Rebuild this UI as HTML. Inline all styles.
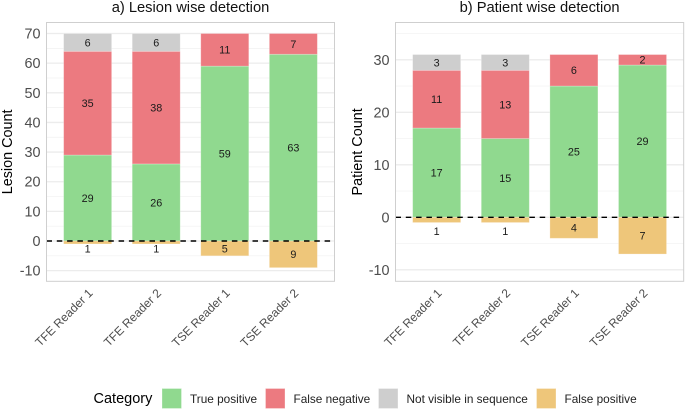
<!DOCTYPE html>
<html>
<head>
<meta charset="utf-8">
<style>
html,body{margin:0;padding:0;background:#fff;}
svg{display:block;font-family:"Liberation Sans",sans-serif;}
</style>
</head>
<body>
<svg id="chart" width="685" height="409" viewBox="0 0 685 409" xmlns="http://www.w3.org/2000/svg">
<g id="legend">
<text x="93.5" y="403" font-size="14.5" fill="#000">Category</text>
<rect x="162" y="388.5" width="19.5" height="20" fill="#90d98f" stroke="#fff" stroke-opacity=".3"/>
<text x="190" y="403" font-size="11.8" fill="#222">True positive</text>
<rect x="265.5" y="388.5" width="19.5" height="20" fill="#ec7a80" stroke="#fff" stroke-opacity=".3"/>
<text x="293.5" y="403" font-size="11.8" fill="#222">False negative</text>
<rect x="378.5" y="388.5" width="19.5" height="20" fill="#cecece" stroke="#fff" stroke-opacity=".3"/>
<text x="406.5" y="403" font-size="11.8" fill="#222">Not visible in sequence</text>
<rect x="536.5" y="388.5" width="19.5" height="20" fill="#eec67a" stroke="#fff" stroke-opacity=".3"/>
<text x="564.5" y="403" font-size="11.8" fill="#222">False positive</text>
</g>
</svg>
<script>
var categories = ["TFE Reader 1", "TFE Reader 2", "TSE Reader 1", "TSE Reader 2"];

var lesionTruePositive = [29, 26, 59, 63];
var lesionFalseNegative = [35, 38, 11, 7];
var lesionNotVisible = [6, 6, 0, 0];
var lesionFalsePositive = [1, 1, 5, 9];
var lesionTicks = [-10, 0, 10, 20, 30, 40, 50, 60, 70];
var lesionMinorTicks = [-5, 5, 15, 25, 35, 45, 55, 65];

var patientTruePositive = [17, 15, 25, 29];
var patientFalseNegative = [11, 13, 6, 2];
var patientNotVisible = [3, 3, 0, 0];
var patientFalsePositive = [1, 1, 4, 7];
var patientTicks = [-10, 0, 10, 20, 30];
var patientMinorTicks = [-5, 5, 15, 25, 35];

var NS = "http://www.w3.org/2000/svg";
var svg = document.getElementById("chart");
var COLORS = {tp: "#90d98f", fn: "#ec7a80", nv: "#cecece", fp: "#eec67a"};

function el(tag, attrs, parent, text) {
  var e = document.createElementNS(NS, tag);
  for (var k in attrs) e.setAttribute(k, attrs[k]);
  if (text !== undefined) e.textContent = text;
  (parent || svg).appendChild(e);
  return e;
}

function drawPanel(cfg) {
  var g = el("g", {});
  
  

  function y(v) { return cfg.zeroY - v * cfg.unit; }
  function bandX(i) { return cfg.left + (cfg.right - cfg.left) * (i + 0.6) / 4.2; }
  var barW = (cfg.right - cfg.left) * 0.7 / 4.2;

  var title = el("text", {x: (cfg.left + cfg.right) / 2, y: 12, "font-size": 14.7, "text-anchor": "middle", fill: "#111"}, g, cfg.title);
  
  

  cfg.minor.forEach(function (t) {
    var line = el("line", {x1: cfg.left, x2: cfg.right, y1: y(t), y2: y(t), stroke: "#f0f0f0", "stroke-width": 0.7}, g);
    
    
  });
  cfg.ticks.forEach(function (t) {
    var line = el("line", {x1: cfg.left, x2: cfg.right, y1: y(t), y2: y(t), stroke: "#ececec", "stroke-width": 1.3}, g);
    
    
    var lab = el("text", {x: cfg.left - 6, y: y(t) + 5, "font-size": 14.4, "text-anchor": "end", fill: "#4d4d4d"}, g, String(t));
    
    
  });

  function seg(i, from, to, color, name) {
    var top = Math.min(y(from), y(to));
    var h = Math.abs(y(from) - y(to));
    var r = el("rect", {x: bandX(i) - barW / 2, y: top, width: barW, height: h, fill: color, stroke: "#fff", "stroke-opacity": 0.3, "stroke-width": 0.8}, g);
    
    
  }
  function label(i, pos, value) {
    var t = el("text", {x: bandX(i), y: y(pos) + 3.9, "font-size": 10.8, "text-anchor": "middle", fill: "#1a1a1a"}, g, String(value));
    
    
  }

  categories.forEach(function (c, i) {
    var tp = cfg.tp[i], fn = cfg.fn[i], nv = cfg.nv[i], fp = cfg.fp[i];
    seg(i, 0, tp, COLORS.tp, 'true-positive');
    seg(i, tp, tp + fn, COLORS.fn, 'false-negative');
    if (nv > 0) seg(i, tp + fn, tp + fn + nv, COLORS.nv, 'not-visible');
    seg(i, 0, -fp, COLORS.fp, 'false-positive');
    label(i, tp / 2, tp);
    label(i, tp + fn / 2, fn);
    if (nv > 0) label(i, tp + fn + nv / 2, nv);
    label(i, fp < 2 ? -cfg.smallLabel : -fp / 2, fp);

    var bx = bandX(i) + 3, by = 291;
    var tl = el("text", {x: bx, y: by + 4, "font-size": 12, "text-anchor": "end", fill: "#4d4d4d", transform: "rotate(-45 " + bx + " " + by + ")"}, g, c);
    
    
  });

  var zero = el("line", {x1: cfg.left, x2: cfg.right, y1: y(0), y2: y(0), stroke: "#000", "stroke-width": 1.4, "stroke-dasharray": "5.5 4.8"}, g);
  
  

  var border = el("rect", {x: cfg.left, y: cfg.top, width: cfg.right - cfg.left, height: cfg.bottom - cfg.top, fill: "none", stroke: "#cfcfcf", "stroke-width": 1}, g);
  
  

  var yt = el("text", {x: 0, y: 0, "font-size": 14.4, "text-anchor": "middle", fill: "#000", transform: "translate(" + cfg.yTitleX + " " + (cfg.top + cfg.bottom) / 2 + ") rotate(-90)"}, g, cfg.yTitle);
  
  
}

drawPanel({
  key: "lesion", title: "a) Lesion wise detection", yTitle: "Lesion Count", yTitleX: 12,
  left: 46.5, right: 334.5, top: 22.5, bottom: 281.3, zeroY: 241, unit: 2.964,
  tp: lesionTruePositive, fn: lesionFalseNegative, nv: lesionNotVisible, fp: lesionFalsePositive,
  ticks: lesionTicks, minor: lesionMinorTicks, smallLabel: 2.5
});
drawPanel({
  key: "patient", title: "b) Patient wise detection", yTitle: "Patient Count", yTitleX: 362,
  left: 395.5, right: 683.7, top: 22.5, bottom: 281.3, zeroY: 217.3, unit: 5.25,
  tp: patientTruePositive, fn: patientFalseNegative, nv: patientNotVisible, fp: patientFalsePositive,
  ticks: patientTicks, minor: patientMinorTicks, smallLabel: 2.6
});
</script>
</body>
</html>
